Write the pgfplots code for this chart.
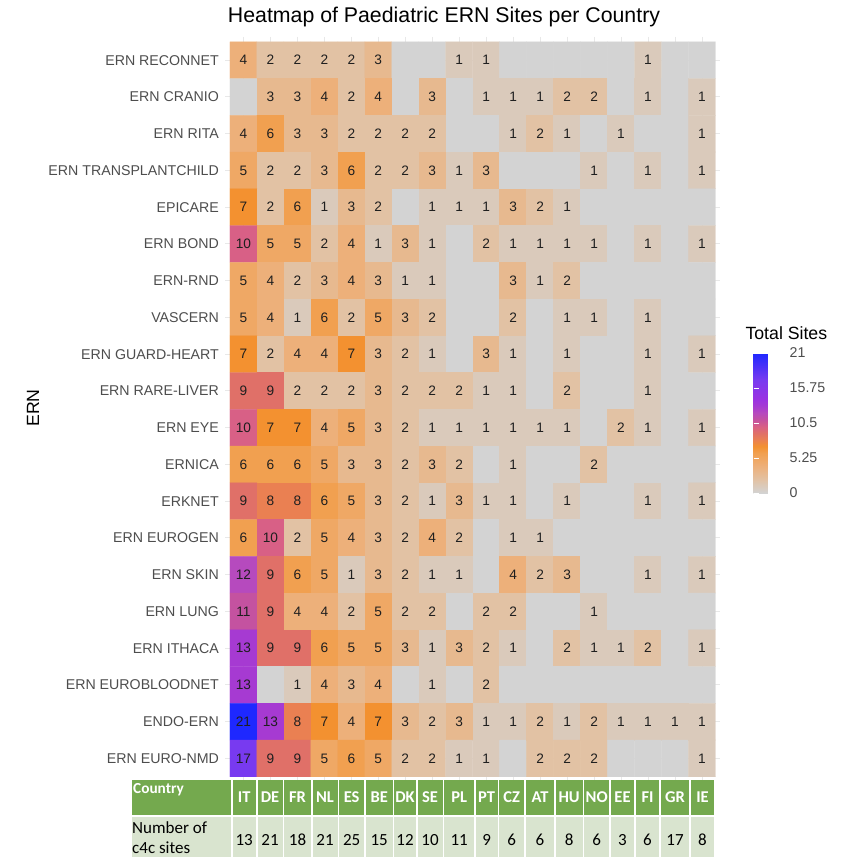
\documentclass[border=0pt]{standalone}
\usepackage{pgfplots}
\pgfplotsset{compat=1.18}
\usepackage{pgfplotstable}
\usepackage{fontspec}
\setmainfont{Liberation Sans}
\newfontfamily\carlito{Carlito}
\definecolor{gthirty}{HTML}{4D4D4D}
\definecolor{hdrgreen}{HTML}{74A94E}
\definecolor{rowgreen}{HTML}{D9E4CF}
\pgfplotsset{colormap={ern}{rgb255(0pt)=(211,211,211) rgb255(2pt)=(226,194,164) rgb255(4pt)=(237,176,122) rgb255(6pt)=(241,160,80) rgb255(7pt)=(243,145,48) rgb255(8pt)=(234,128,82) rgb255(9pt)=(224,112,104) rgb255(10pt)=(216,96,134) rgb255(11pt)=(196,82,160) rgb255(12pt)=(182,74,190) rgb255(13pt)=(166,58,210) rgb255(14pt)=(155,50,225) rgb255(17pt)=(120,58,240) rgb255(21pt)=(30,40,255)}}

% x = country index (IT..IE), y = ERN index (0 = top), v = sites
\pgfplotstableread[row sep=\\]{
x y v\\
0 0 4\\1 0 2\\2 0 2\\3 0 2\\4 0 2\\5 0 3\\6 0 0\\7 0 0\\8 0 1\\9 0 1\\10 0 0\\11 0 0\\12 0 0\\13 0 0\\14 0 0\\15 0 1\\16 0 0\\17 0 0\\
0 1 0\\1 1 3\\2 1 3\\3 1 4\\4 1 2\\5 1 4\\6 1 0\\7 1 3\\8 1 0\\9 1 1\\10 1 1\\11 1 1\\12 1 2\\13 1 2\\14 1 0\\15 1 1\\16 1 0\\17 1 1\\
0 2 4\\1 2 6\\2 2 3\\3 2 3\\4 2 2\\5 2 2\\6 2 2\\7 2 2\\8 2 0\\9 2 0\\10 2 1\\11 2 2\\12 2 1\\13 2 0\\14 2 1\\15 2 0\\16 2 0\\17 2 1\\
0 3 5\\1 3 2\\2 3 2\\3 3 3\\4 3 6\\5 3 2\\6 3 2\\7 3 3\\8 3 1\\9 3 3\\10 3 0\\11 3 0\\12 3 0\\13 3 1\\14 3 0\\15 3 1\\16 3 0\\17 3 1\\
0 4 7\\1 4 2\\2 4 6\\3 4 1\\4 4 3\\5 4 2\\6 4 0\\7 4 1\\8 4 1\\9 4 1\\10 4 3\\11 4 2\\12 4 1\\13 4 0\\14 4 0\\15 4 0\\16 4 0\\17 4 0\\
0 5 10\\1 5 5\\2 5 5\\3 5 2\\4 5 4\\5 5 1\\6 5 3\\7 5 1\\8 5 0\\9 5 2\\10 5 1\\11 5 1\\12 5 1\\13 5 1\\14 5 0\\15 5 1\\16 5 0\\17 5 1\\
0 6 5\\1 6 4\\2 6 2\\3 6 3\\4 6 4\\5 6 3\\6 6 1\\7 6 1\\8 6 0\\9 6 0\\10 6 3\\11 6 1\\12 6 2\\13 6 0\\14 6 0\\15 6 0\\16 6 0\\17 6 0\\
0 7 5\\1 7 4\\2 7 1\\3 7 6\\4 7 2\\5 7 5\\6 7 3\\7 7 2\\8 7 0\\9 7 0\\10 7 2\\11 7 0\\12 7 1\\13 7 1\\14 7 0\\15 7 1\\16 7 0\\17 7 0\\
0 8 7\\1 8 2\\2 8 4\\3 8 4\\4 8 7\\5 8 3\\6 8 2\\7 8 1\\8 8 0\\9 8 3\\10 8 1\\11 8 0\\12 8 1\\13 8 0\\14 8 0\\15 8 1\\16 8 0\\17 8 1\\
0 9 9\\1 9 9\\2 9 2\\3 9 2\\4 9 2\\5 9 3\\6 9 2\\7 9 2\\8 9 2\\9 9 1\\10 9 1\\11 9 0\\12 9 2\\13 9 0\\14 9 0\\15 9 1\\16 9 0\\17 9 0\\
0 10 10\\1 10 7\\2 10 7\\3 10 4\\4 10 5\\5 10 3\\6 10 2\\7 10 1\\8 10 1\\9 10 1\\10 10 1\\11 10 1\\12 10 1\\13 10 0\\14 10 2\\15 10 1\\16 10 0\\17 10 1\\
0 11 6\\1 11 6\\2 11 6\\3 11 5\\4 11 3\\5 11 3\\6 11 2\\7 11 3\\8 11 2\\9 11 0\\10 11 1\\11 11 0\\12 11 0\\13 11 2\\14 11 0\\15 11 0\\16 11 0\\17 11 0\\
0 12 9\\1 12 8\\2 12 8\\3 12 6\\4 12 5\\5 12 3\\6 12 2\\7 12 1\\8 12 3\\9 12 1\\10 12 1\\11 12 0\\12 12 1\\13 12 0\\14 12 0\\15 12 1\\16 12 0\\17 12 1\\
0 13 6\\1 13 10\\2 13 2\\3 13 5\\4 13 4\\5 13 3\\6 13 2\\7 13 4\\8 13 2\\9 13 0\\10 13 1\\11 13 1\\12 13 0\\13 13 0\\14 13 0\\15 13 0\\16 13 0\\17 13 0\\
0 14 12\\1 14 9\\2 14 6\\3 14 5\\4 14 1\\5 14 3\\6 14 2\\7 14 1\\8 14 1\\9 14 0\\10 14 4\\11 14 2\\12 14 3\\13 14 0\\14 14 0\\15 14 1\\16 14 0\\17 14 1\\
0 15 11\\1 15 9\\2 15 4\\3 15 4\\4 15 2\\5 15 5\\6 15 2\\7 15 2\\8 15 0\\9 15 2\\10 15 2\\11 15 0\\12 15 0\\13 15 1\\14 15 0\\15 15 0\\16 15 0\\17 15 0\\
0 16 13\\1 16 9\\2 16 9\\3 16 6\\4 16 5\\5 16 5\\6 16 3\\7 16 1\\8 16 3\\9 16 2\\10 16 1\\11 16 0\\12 16 2\\13 16 1\\14 16 1\\15 16 2\\16 16 0\\17 16 1\\
0 17 13\\1 17 0\\2 17 1\\3 17 4\\4 17 3\\5 17 4\\6 17 0\\7 17 1\\8 17 0\\9 17 2\\10 17 0\\11 17 0\\12 17 0\\13 17 0\\14 17 0\\15 17 0\\16 17 0\\17 17 0\\
0 18 21\\1 18 13\\2 18 8\\3 18 7\\4 18 4\\5 18 7\\6 18 3\\7 18 2\\8 18 3\\9 18 1\\10 18 1\\11 18 2\\12 18 1\\13 18 2\\14 18 1\\15 18 1\\16 18 1\\17 18 1\\
0 19 17\\1 19 9\\2 19 9\\3 19 5\\4 19 6\\5 19 5\\6 19 2\\7 19 2\\8 19 1\\9 19 1\\10 19 0\\11 19 2\\12 19 2\\13 19 2\\14 19 0\\15 19 0\\16 19 0\\17 19 1\\
}\ernData

\begin{document}
\begin{tikzpicture}[x=1pt,y=1pt]
\path[use as bounding box] (0,0) rectangle (849,-857);
\begin{axis}[
  at={(225.1pt,-781.9pt)}, anchor=south west,
  scale only axis, width=495.2pt, height=745.3pt,
  xmin=-0.68, xmax=17.68, ymin=-0.64, ymax=19.64, y dir=reverse,
  xtick={0,...,17}, ytick={0,...,19}, xticklabels={},
  yticklabels={ERN RECONNET, ERN CRANIO, ERN RITA, ERN TRANSPLANTCHILD, EPICARE, ERN BOND, ERN-RND, VASCERN, ERN GUARD-HEART, ERN RARE-LIVER, ERN EYE, ERNICA, ERKNET, ERN EUROGEN, ERN SKIN, ERN LUNG, ERN ITHACA, ERN EUROBLOODNET, ENDO-ERN, ERN EURO-NMD},
  yticklabel style={font=\fontsize{14.2}{16}\selectfont, text=gthirty, inner sep=0pt, xshift=-6pt},
  major tick length=0pt,
  grid=major, grid style={color=black!9, line width=0.9pt},
  axis line style={draw=none},
  colormap name=ern, point meta min=0, point meta max=21,
  colorbar,
  colorbar style={
    scale only axis, width=27pt, height=140pt,
    at={(parent axis.north east)}, anchor=north west, xshift=24.7pt, yshift=-316.4pt,
    ytick={0,5.25,10.5,15.75,21},
    ytick pos=both, yticklabel pos=right,
    yticklabel style={font=\fontsize{14.2}{16}\selectfont, text=gthirty, inner sep=0pt, xshift=9pt, /pgf/number format/assume math mode=true},
    axis line style={draw=none},
    major tick length=5pt, tick style={white, line width=0.8pt}, tick align=inside,
  },
]
\addplot[matrix plot*, mesh/cols=18, point meta=explicit] table[x=x, y=y, meta=v] \ernData;
\addplot[draw=none, mark=none, point meta=explicit symbolic,
  nodes near coords={\ifnum\pgfplotspointmeta>0 \pgfplotspointmeta\fi},
  nodes near coords align={center},
  every node near coord/.append style={font=\fontsize{13.7}{15}\selectfont, text=black!88, inner sep=0pt}]
  table[x=x, y=y, meta=v] \ernData;
\end{axis}
% titles
\node[anchor=base, font=\fontsize{21.3}{24}\selectfont] at (444,-22.5) {Heatmap of Paediatric ERN Sites per Country};
\node[rotate=90, font=\fontsize{17.7}{20}\selectfont] at (33,-408) {ERN};
\node[anchor=west, font=\fontsize{17.7}{20}\selectfont] at (742,-333) {Total Sites};
% country table
\fill[hdrgreen] (131.7,-780) rectangle (230.9,-815);
\fill[rowgreen] (131.7,-816.7) rectangle (230.9,-857);
\node[anchor=west, inner sep=0pt, text=white, font=\carlito\bfseries\fontsize{15.3}{17}\selectfont] at (133,-790) {Country};
\node[anchor=west, inner sep=0pt, font=\carlito\fontsize{17}{19}\selectfont] at (132,-828) {Number of};
\node[anchor=west, inner sep=0pt, font=\carlito\fontsize{17}{19}\selectfont] at (132,-848) {c4c sites};
\foreach \a/\b/\c/\n in {231.7/256.7/IT/13, 256.7/283.3/DE/21, 283.3/311.7/FR/18, 311.7/338.3/NL/21, 338.3/365/ES/25, 365/393.3/BE/15, 393.3/416.7/DK/12, 416.7/443.3/SE/10, 443.3/475/PL/11, 475/498.3/PT/9, 498.3/525/CZ/6, 525/555/AT/6, 555/583.3/HU/8, 583.3/610/NO/6, 610/635/EE/3, 635/660/FI/6, 660/690/GR/17, 690/715/IE/8} {
  \fill[hdrgreen] (\a+0.8,-780) rectangle (\b-0.8,-815);
  \fill[rowgreen] (\a+0.8,-816.7) rectangle (\b-0.8,-857);
  \node[inner sep=0pt, text=white, font=\carlito\bfseries\fontsize{16.5}{18}\selectfont] at ({(\a+\b)/2},-797) {\c};
  \node[inner sep=0pt, font=\carlito\fontsize{17}{19}\selectfont] at ({(\a+\b)/2},-840) {\n};
}
\end{tikzpicture}
\end{document}
